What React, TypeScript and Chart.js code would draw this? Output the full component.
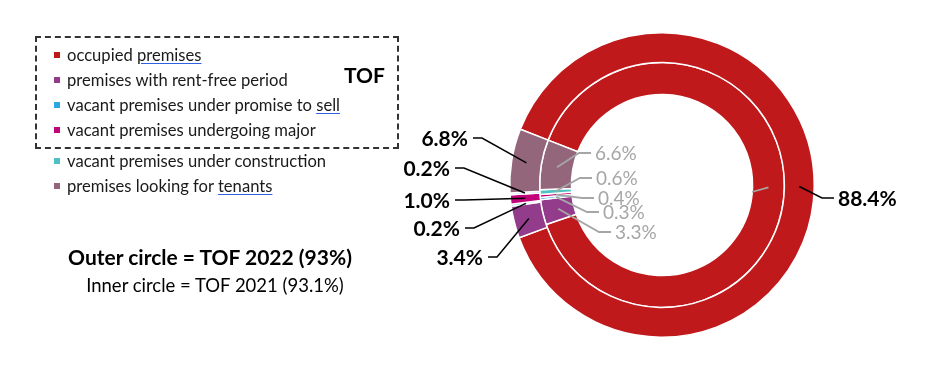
import React, { useEffect, useRef } from "react";
import { Chart, registerables } from "chart.js";

Chart.register(...registerables);

// ---- data ----
const categories = [
  "occupied premises",
  "premises with rent-free period",
  "vacant premises under promise to sell",
  "vacant premises undergoing major",
  "vacant premises under construction",
  "premises looking for tenants",
];
const outer2022 = [88.4, 3.4, 0.2, 1.0, 0.2, 6.8];
const inner2021 = [88.8, 3.3, 0.3, 0.4, 0.6, 6.6];
const outerLabels = ["88.4%", "3.4%", "0.2%", "1.0%", "0.2%", "6.8%"];
const innerLabels = ["", "3.3%", "0.3%", "0.4%", "0.6%", "6.6%"];
const underlinedWords = ["premises", "", "sell", "", "", "tenants"];

// ---- styles ----
const sliceColors = ["#C0191C", "#933C8C", "#2AA8E0", "#C2037A", "#4EC2C2", "#94667C"];
const FONT = "Lato, 'Open Sans', sans-serif";

// label layout: offset of the text anchor relative to the doughnut centre
const outerLabelLayout: [number, number, string][] = [
  [176, 13, "left"],
  [-179, 72, "right"],
  [-202, 43, "right"],
  [-212, 15, "right"],
  [-212, -17, "right"],
  [-194, -47, "right"],
];
const innerLabelLayout: [number, number, string][] = [
  [90, 7, "left"],
  [-47, 47, "left"],
  [-59, 27, "left"],
  [-64, 13, "left"],
  [-66, -7, "left"],
  [-67, -32, "left"],
];
const legendRowY = [55, 80, 105, 130, 161, 186];

const labelPlugin = {
  id: "leaderLabels",
  afterDatasetsDraw(chart: any) {
    const ctx = chart.ctx;
    const sets = [
      { idx: 0, labels: outerLabels, layout: outerLabelLayout, color: "#000000", font: `bold 21px ${FONT}`, lw: 1.5 },
      { idx: 1, labels: innerLabels, layout: innerLabelLayout, color: "#A6A6A6", font: `19px ${FONT}`, lw: 1.8 },
    ];
    ctx.save();
    for (const s of sets) {
      const meta = chart.getDatasetMeta(s.idx);
      meta.data.forEach((arc: any, i: number) => {
        const p = arc.getProps(["x", "y", "startAngle", "endAngle", "innerRadius", "outerRadius"], true);
        const mid = (p.startAngle + p.endAngle) / 2;
        const r = (p.innerRadius + p.outerRadius) / 2;
        const ax = p.x + Math.cos(mid) * r;
        const ay = p.y + Math.sin(mid) * r;
        const [dx, dy, align] = s.layout[i];
        const tx = p.x + dx;
        const ty = p.y + dy;
        ctx.strokeStyle = s.color;
        ctx.lineWidth = s.lw;
        ctx.beginPath();
        ctx.moveTo(ax, ay);
        const text = s.labels[i];
        if (!text) {
          ctx.lineTo(tx, ty);
        } else if (align === "left") {
          ctx.lineTo(tx - 16, ty);
          ctx.lineTo(tx - 4, ty);
        } else {
          ctx.lineTo(tx + 14, ty);
          ctx.lineTo(tx + 5, ty);
        }
        ctx.stroke();
        if (text) {
          ctx.fillStyle = s.color;
          ctx.font = s.font;
          ctx.textAlign = align;
          ctx.textBaseline = "middle";
          ctx.fillText(text, tx, ty + 1);
        }
      });
    }
    ctx.restore();
  },
};

function LegendText({ text, word }: { text: string; word: string }) {
  if (!word || !text.endsWith(word)) return <>{text}</>;
  const head = text.slice(0, text.length - word.length);
  return (
    <>
      {head}
      <span style={{ textDecoration: "underline", textDecorationColor: "#2F62E0", textUnderlineOffset: 2 }}>{word}</span>
    </>
  );
}

export default function App() {
  const ref = useRef<HTMLCanvasElement | null>(null);
  useEffect(() => {
    if (!ref.current) return;
    const chart = new Chart(ref.current, {
      type: "doughnut",
      data: {
        labels: categories,
        datasets: [
          {
            label: "TOF 2022",
            data: outer2022,
            backgroundColor: sliceColors,
            borderColor: "#ffffff",
            borderWidth: 1.5,
            weight: 30,
          },
          {
            label: "TOF 2021",
            data: inner2021,
            backgroundColor: sliceColors,
            borderColor: "#ffffff",
            borderWidth: 1.5,
            weight: 32,
          },
        ],
      },
      options: {
        responsive: false,
        maintainAspectRatio: false,
        devicePixelRatio: 1,
        animation: false,
        cutout: "59.5%",
        rotation: 291.5,
        layout: { padding: { left: 509, right: 120, top: 32, bottom: 43 } },
        plugins: { legend: { display: false }, tooltip: { enabled: false } },
        events: [],
      } as any,
      plugins: [labelPlugin],
    });
    return () => chart.destroy();
  }, []);

  return (
    <div style={{ position: "fixed", left: 0, top: 0, width: 935, height: 381, background: "#fff", overflow: "hidden", fontFamily: FONT }}>
      <canvas ref={ref} width={935} height={381} style={{ position: "absolute", left: 0, top: 0, width: 935, height: 381 }} />
      <div style={{ position: "absolute", left: 35, top: 36, width: 360, height: 109, border: "2px dashed #333" }} />
      {categories.map((c, i) => (
        <div key={c} style={{ position: "absolute", left: 54, top: legendRowY[i] - 11, height: 22, lineHeight: "22px", fontSize: 16.6, color: "#1a1a1a", whiteSpace: "nowrap" }}>
          <span style={{ display: "inline-block", width: 6, height: 6, background: sliceColors[i], marginRight: 7, verticalAlign: "middle", position: "relative", top: -2 }} />
          <LegendText text={c} word={underlinedWords[i]} />
        </div>
      ))}
      <div style={{ position: "absolute", left: 344, top: 62, fontSize: 21, fontWeight: "bold", lineHeight: "26px", color: "#000" }}>TOF</div>
      <div style={{ position: "absolute", left: 0, width: 420, top: 242, textAlign: "center", fontSize: 21, fontWeight: "bold", lineHeight: "30px", color: "#000" }}>
        Outer circle = TOF 2022 (93%)
      </div>
      <div style={{ position: "absolute", left: 0, width: 430, top: 272, textAlign: "center", fontSize: 18.5, lineHeight: "26px", color: "#000" }}>
        Inner circle = TOF 2021 (93.1%)
      </div>
    </div>
  );
}
